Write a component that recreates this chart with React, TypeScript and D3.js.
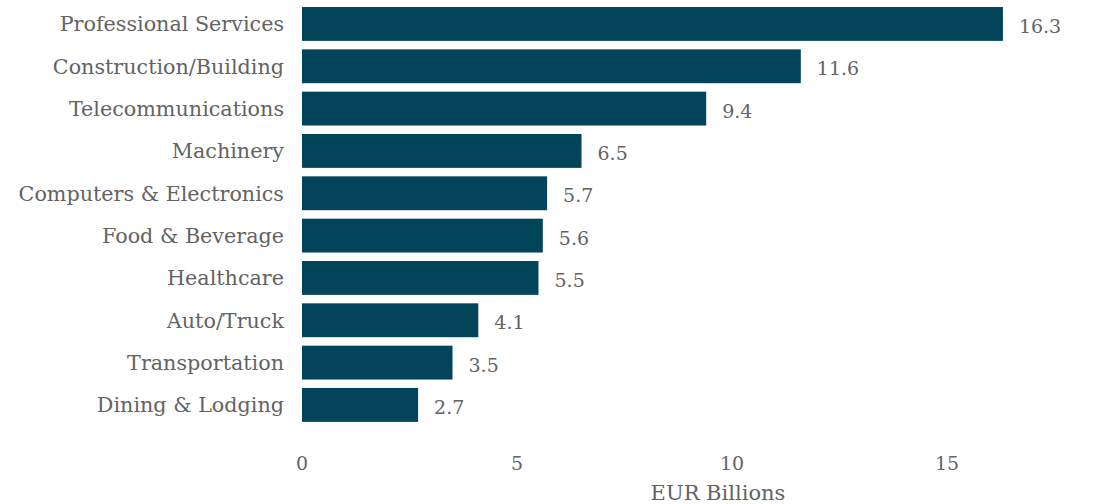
import React from "react";
import * as d3 from "d3";

const categories = [
  "Professional Services",
  "Construction/Building",
  "Telecommunications",
  "Machinery",
  "Computers & Electronics",
  "Food & Beverage",
  "Healthcare",
  "Auto/Truck",
  "Transportation",
  "Dining & Lodging",
];
const values = [16.3, 11.6, 9.4, 6.5, 5.7, 5.6, 5.5, 4.1, 3.5, 2.7];
const xTicks = [0, 5, 10, 15];
const axisTitle = "EUR Billions";

const W = 1095;
const H = 504;
const FONT = "DejaVu Serif";
const TEXT = "#636363";
const BAR = "#02445a";

export default function App() {
  const x = d3.scaleLinear().domain([0, 18]).range([302, 302 + 18 * 43]);
  const y = d3
    .scaleBand<string>()
    .domain(categories)
    .range([2.77, 426.1])
    .paddingInner(0.2)
    .paddingOuter(0.1);
  const bw = y.bandwidth();
  return (
    <svg
      width={W}
      height={H}
      style={{ position: "absolute", left: 0, top: 0, display: "block", fontFamily: FONT }}
    >
      <rect x={0} y={0} width={W} height={H} fill="#ffffff" />
      {categories.map((c, i) => {
        const yc = (y(c) as number) + bw / 2;
        return (
          <g key={c}>
            <rect
              x={x(0)}
              y={y(c)}
              width={x(values[i]) - x(0)}
              height={bw}
              fill={BAR}
            />
            <text
              x={284}
              y={yc + 7.5}
              textAnchor="end"
              fontSize={20.7}
              fill={TEXT}
            >
              {c}
            </text>
            <text
              x={x(values[i]) + 16}
              y={yc + 9}
              fontSize={19}
              fill={TEXT}
            >
              {values[i].toFixed(1)}
            </text>
          </g>
        );
      })}
      {xTicks.map((t) => (
        <text
          key={t}
          x={x(t)}
          y={470}
          textAnchor="middle"
          fontSize={19}
          fill={TEXT}
        >
          {t}
        </text>
      ))}
      <text
        x={718}
        y={500}
        textAnchor="middle"
        fontSize={21}
        fill={TEXT}
      >
        {axisTitle}
      </text>
    </svg>
  );
}
